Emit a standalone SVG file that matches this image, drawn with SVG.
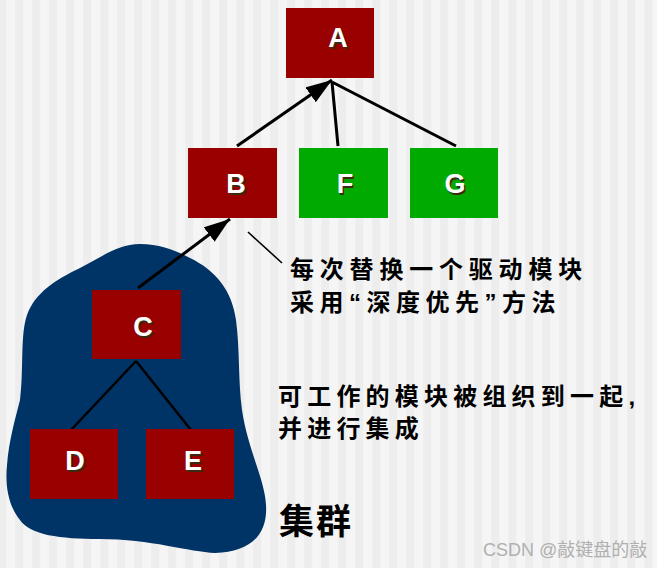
<svg xmlns="http://www.w3.org/2000/svg" width="670" height="568" viewBox="0 0 670 568">
<defs>
<pattern id="stripes" patternUnits="userSpaceOnUse" x="-1.7" y="0" width="17" height="568">
<rect x="0" y="0" width="8.5" height="568" fill="#ededed"/>
<rect x="8.5" y="0" width="8.5" height="568" fill="#f5f5f5"/>
</pattern>
<marker id="arrow" markerUnits="userSpaceOnUse" markerWidth="28" markerHeight="22" refX="26" refY="9" orient="auto">
<path d="M0,0 L26,9 L0,18 Z" fill="#000"/>
</marker>
<style>
.red{fill:#990000;}
.green{fill:#00aa00;}
.lbl{font-family:"Liberation Sans",Arial,sans-serif;font-weight:bold;font-size:27px;text-anchor:middle;fill:#ffffff;}
.sh{font-family:"Liberation Sans",Arial,sans-serif;font-weight:bold;font-size:27px;text-anchor:middle;fill:#3a2a10;}
.cn{font-family:"Noto Sans CJK SC",sans-serif;font-weight:bold;font-size:24px;fill:#000;letter-spacing:5.8px;}
.q{font-family:"Liberation Sans",sans-serif;}
.edge{stroke:#000;stroke-width:3;fill:none;}
.thin{stroke:#000;stroke-width:2.5;fill:none;}
</style>
</defs>
<rect x="0" y="0" width="670" height="568" fill="#ffffff"/>
<rect x="0" y="0" width="657" height="568" fill="url(#stripes)"/>

<path id="cluster" d="M140,244 C160,244 175,250 190,258 C215,270 232,290 236,320 C240,350 238,380 242,410 C248,450 265,480 266,505 C268,535 250,552 215,553 C190,552 150,539 100,539 C60,539 30,535 20,520 C8,505 5,485 7,465 C9,440 15,420 20,400 C24,370 20,335 27,315 C35,293 55,280 80,268 C100,258 118,244 140,244 Z" fill="#003366"/>

<g id="connectors">
<line class="edge" x1="237" y1="146" x2="332" y2="80" marker-end="url(#arrow)"/>
<line class="edge" x1="338" y1="146" x2="332" y2="82"/>
<line class="edge" x1="456" y1="146" x2="332" y2="82"/>
<line class="edge" x1="138" y1="288" x2="230" y2="219" marker-end="url(#arrow)"/>
<line class="thin" x1="136" y1="361" x2="71" y2="430"/>
<line class="thin" x1="136" y1="361" x2="191" y2="430"/>
<line stroke="#000" stroke-width="1.6" x1="248" y1="232" x2="282" y2="263"/>
</g>

<g id="A"><rect class="red" x="286" y="8" width="88" height="70"/><text class="sh" x="339.5" y="48.5">A</text><text class="lbl" x="338" y="47">A</text></g>
<g id="B"><rect class="red" x="188" y="148" width="89" height="70"/><text class="sh" x="237.5" y="194.5">B</text><text class="lbl" x="236" y="193">B</text></g>
<g id="F"><rect class="green" x="299" y="148" width="89" height="70"/><text class="sh" x="346.5" y="194.5">F</text><text class="lbl" x="345" y="193">F</text></g>
<g id="G"><rect class="green" x="410" y="148" width="88" height="70"/><text class="sh" x="456.5" y="194.5">G</text><text class="lbl" x="455" y="193">G</text></g>
<g id="C"><rect class="red" x="92" y="290" width="89" height="69"/><text class="sh" x="144.5" y="337.5">C</text><text class="lbl" x="143" y="336">C</text></g>
<g id="D"><rect class="red" x="30" y="429" width="88" height="70"/><text class="sh" x="76.5" y="471.5">D</text><text class="lbl" x="75" y="470">D</text></g>
<g id="E"><rect class="red" x="146" y="429" width="88" height="70"/><text class="sh" x="194.5" y="471.5">E</text><text class="lbl" x="193" y="470">E</text></g>

<g id="texts">
<text class="cn" x="290" y="278">每次替换一个驱动模块</text>
<text class="cn" x="290" y="310.5" style="letter-spacing:5.5px;">采用<tspan class="q">“</tspan>深度优先<tspan class="q">”</tspan>方法</text>
<text class="cn" x="278" y="405" style="letter-spacing:5.2px;">可工作的模块被组织到一起<tspan class="q">,</tspan></text>
<text class="cn" x="278" y="437" style="letter-spacing:5.2px;">并进行集成</text>
<text x="279" y="534" style="font-family:'Noto Sans CJK SC',sans-serif;font-weight:bold;font-size:35px;fill:#000;letter-spacing:2px;">集群</text>
<text x="483" y="556" style="font-family:'Liberation Sans','Noto Sans CJK SC',sans-serif;font-size:18px;fill:#b0b0b0;">CSDN @敲键盘的敲</text>
</g>
</svg>
